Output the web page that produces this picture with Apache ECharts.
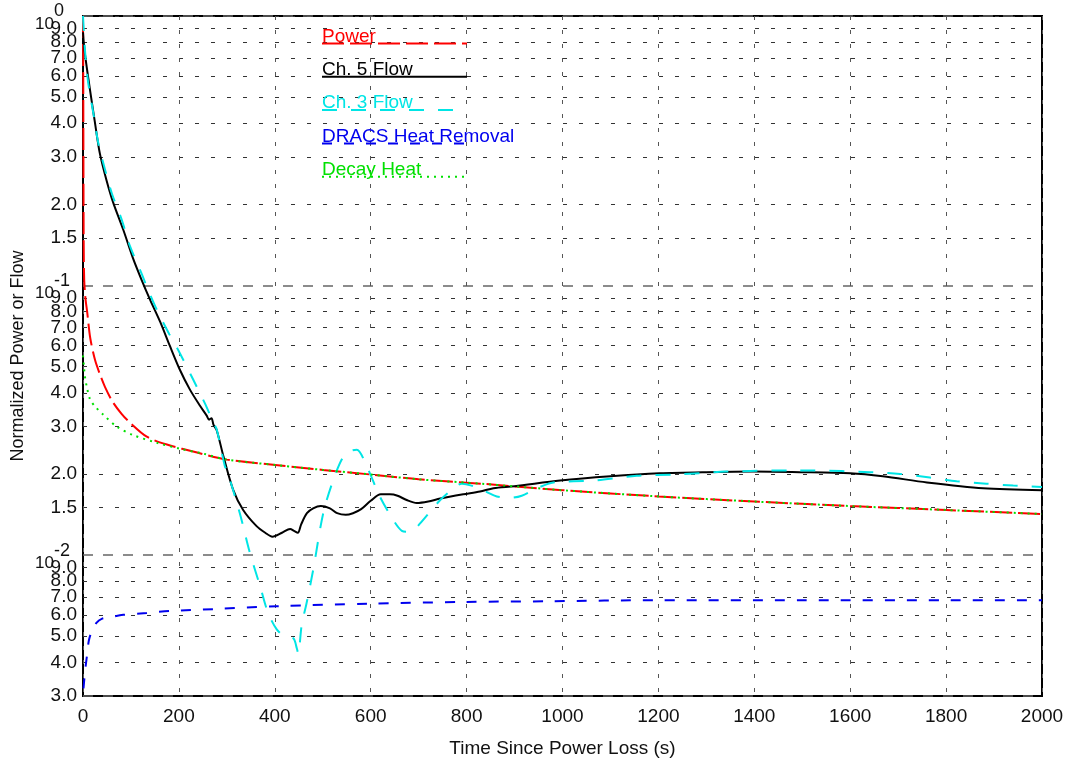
<!DOCTYPE html>
<html lang="en">
<head>
    <meta charset="UTF-8">
    <title>Power and Flow after Power Loss</title>
    <script src="https://cdn.jsdelivr.net/npm/echarts@6/dist/echarts.min.js"></script>
    <style>
        html, body { margin: 0; padding: 0; background: #fff; }
    </style>
</head>
<body>
<div id="main" style="width: 1072px;height:767px;"></div>
<script>
    // [time (s), normalized value]
    let power = [[0, 1.0], [0.5, 0.6], [1, 0.25], [1.5, 0.14], [2.5, 0.105], [5, 0.09], [9, 0.079], [15, 0.064],
        [25, 0.053], [35, 0.047], [46, 0.042], [62, 0.037], [80, 0.0335], [98, 0.031], [133, 0.0275],
        [175, 0.0257], [238, 0.024], [300, 0.0226], [411, 0.0215], [500, 0.0207], [600, 0.0199],
        [700, 0.0191], [830, 0.0184], [1000, 0.0174], [1200, 0.0165], [1400, 0.0158], [1600, 0.0152],
        [1800, 0.0147], [2000, 0.0142]];
    let ch5Flow = [[0, 0.87], [3, 0.75], [7.6, 0.649], [14.6, 0.532], [25, 0.401], [35, 0.31], [49, 0.246],
        [63, 0.203], [84, 0.161], [104, 0.1267], [123, 0.1041], [140, 0.0885], [161, 0.0733], [181, 0.0598],
        [202, 0.0487], [223, 0.0411], [244, 0.0358], [258, 0.0329], [263, 0.0318], [268, 0.0322],
        [272, 0.0305], [279, 0.029], [293, 0.0232], [313, 0.0175], [334, 0.0147], [362, 0.0128],
        [380, 0.0121], [395, 0.0117], [415, 0.0121], [432, 0.0125], [440, 0.0123], [448, 0.0121],
        [455, 0.013], [467, 0.0143], [480, 0.0149], [496, 0.0152], [515, 0.0149], [530, 0.0143],
        [548, 0.0141], [563, 0.0143], [580, 0.0148], [600, 0.0159], [621, 0.0168], [640, 0.0168],
        [656, 0.0166], [675, 0.016], [696, 0.0156], [720, 0.0158], [745, 0.0162], [793, 0.0168],
        [828, 0.0172], [856, 0.0177], [900, 0.018], [995, 0.0189], [1100, 0.0196], [1203, 0.0201],
        [1300, 0.0203], [1398, 0.0204], [1495, 0.0203], [1600, 0.0201], [1668, 0.0196], [1760, 0.0186],
        [1877, 0.0177], [2000, 0.0174]];
    let ch3Flow = [[0, 1.0], [3, 0.8], [6, 0.68], [11, 0.563], [21.5, 0.436], [32, 0.337], [46, 0.269],
        [60, 0.22], [81, 0.175], [98, 0.14], [122, 0.111], [133, 0.099], [154, 0.0813], [180, 0.066],
        [202, 0.0561], [230, 0.0447], [254, 0.0366], [272, 0.031], [279, 0.0292], [296, 0.0213],
        [300, 0.0207], [327, 0.0143], [348, 0.0102], [369, 0.0077], [386, 0.0061], [404, 0.0053],
        [420, 0.005], [439, 0.0049], [446, 0.0045], [449, 0.0043], [456, 0.0055], [466, 0.0066],
        [480, 0.0088], [501, 0.0143], [522, 0.019], [543, 0.0232], [560, 0.0244], [571, 0.0246],
        [592, 0.0213], [619, 0.0165], [647, 0.0135], [665, 0.0123], [678, 0.0122], [690, 0.0124],
        [703, 0.0131], [745, 0.016], [770, 0.0175], [790, 0.0184], [810, 0.0181], [840, 0.0172],
        [863, 0.0165], [890, 0.0163], [915, 0.0166], [950, 0.0178], [981, 0.0186], [1064, 0.0189],
        [1155, 0.0197], [1238, 0.0199], [1342, 0.0204], [1481, 0.0206], [1523, 0.0206], [1641, 0.0203],
        [1704, 0.02], [1766, 0.0194], [1822, 0.0188], [1884, 0.0184], [1940, 0.0181], [2000, 0.0179]];
    let dracs = [[1, 0.0032], [3, 0.0035], [5, 0.0038], [8, 0.0042], [12, 0.0048], [18, 0.0052],
        [28, 0.0056], [39, 0.0058], [60, 0.0059], [84, 0.006], [133, 0.0061], [181, 0.0062],
        [272, 0.0063], [404, 0.00646], [598, 0.0066], [793, 0.0067], [974, 0.00674], [1200, 0.0068],
        [1500, 0.0068], [1800, 0.0068], [2000, 0.0068]];
    let decayHeat = [[0, 0.055], [2, 0.05], [4, 0.046], [8, 0.042], [15, 0.0377], [25, 0.0356],
        [42, 0.0332], [70, 0.03], [104, 0.0279], [154, 0.0261], [202, 0.0248], [250, 0.0238],
        [300, 0.0226], [411, 0.0215], [500, 0.0207], [600, 0.0199], [700, 0.0191], [830, 0.0184],
        [1000, 0.0174], [1200, 0.0165], [1400, 0.0158], [1600, 0.0152], [1800, 0.0147], [2000, 0.0142]];

    // y ticks (log scale); 1.0 is a blank placeholder so 9.0 is not dropped as an edge label
    let yMinorTicks = [1.0, 0.9, 0.8, 0.7, 0.6, 0.5, 0.4, 0.3, 0.2, 0.15,
        0.09, 0.08, 0.07, 0.06, 0.05, 0.04, 0.03, 0.02, 0.015,
        0.009, 0.008, 0.007, 0.006, 0.005, 0.004];
    let yMajorTicks = [0.003, 0.01, 0.1, 1.0];
    let yMin = 0.003, yMax = 1;

    let legendNames = ['Power', 'Ch. 5 Flow', 'Ch. 3 Flow', 'DRACS Heat Removal', 'Decay Heat'];
    let colors = ['#ff0000', '#000000', '#00e5e5', '#0000ee', '#00e000'];
    let dashes = [[22, 6], null, [15, 14], [10, 12], [2, 5]];

    const font = 'Liberation Sans, Arial, sans-serif';
    const lg = v => Math.log10(v);
    const toLog = arr => arr.map(p => [p[0], lg(p[1])]);
    const mantissa = function (val) {
        let e = Math.floor(val + 1e-9);
        return (Math.pow(10, val) / Math.pow(10, e)).toFixed(1);
    };
    let seriesData = [power, ch5Flow, ch3Flow, dracs, decayHeat];

    let chart = echarts.init(document.getElementById('main'));

    let series = seriesData.map(function (d, i) {
        return {
            name: legendNames[i],
            type: 'line',
            data: toLog(d),
            showSymbol: false,
            smooth: 0.3,
            lineStyle: {color: colors[i], width: 2, type: dashes[i] || 'solid'},
            z: i === 4 ? 5 : 3
        };
    });

    // legend drawn as text sitting on a sample line
    let graphics = [];
    legendNames.forEach(function (name, i) {
        let ly = 43.5 + i * 33.3;
        graphics.push({
            type: 'line',
            shape: {x1: 322, y1: ly, x2: 467, y2: ly},
            style: {stroke: colors[i], lineWidth: 2, lineDash: dashes[i] || null},
            z: 10
        });
        graphics.push({
            type: 'text',
            x: 322, y: ly - 7,
            style: {text: name, fill: colors[i], font: '19px ' + font, textVerticalAlign: 'middle'},
            z: 11
        });
    });

    let option = {
        animation: false,
        backgroundColor: '#fff',
        grid: {left: 83, right: 30, top: 16, bottom: 71, show: true, borderColor: '#000', borderWidth: 2,
            backgroundColor: 'transparent', outerBoundsMode: 'none', containLabel: false},
        xAxis: {
            type: 'value', min: 0, max: 2000, interval: 200,
            name: 'Time Since Power Loss (s)', nameLocation: 'middle', nameGap: 43,
            nameTextStyle: {fontSize: 19, color: '#111', fontFamily: font},
            axisLine: {show: false},
            axisTick: {show: false},
            axisLabel: {fontSize: 19, color: '#111', fontFamily: font, margin: 11,
                formatter: v => String(v)},
            splitLine: {show: true, lineStyle: {color: '#555', width: 1, type: [4, 10]}}
        },
        yAxis: [
            {
                type: 'value', min: lg(yMin), max: lg(yMax),
                name: 'Normalized Power or Flow', nameLocation: 'middle', nameGap: 56,
                nameTextStyle: {fontSize: 18, color: '#111', fontFamily: font},
                axisLine: {show: false},
                axisTick: {show: false, customValues: yMinorTicks.map(lg)},
                axisLabel: {
                    customValues: yMinorTicks.map(lg),
                    hideOverlap: false,
                    fontSize: 19, color: '#111', fontFamily: font, margin: 6,
                    formatter: function (val) {
                        return val > -1e-9 ? '' : mantissa(val);
                    }
                },
                splitLine: {show: true, lineStyle: {color: '#333', width: 1, type: [4, 12]}}
            },
            {
                type: 'value', min: lg(yMin), max: lg(yMax), position: 'left', offset: 0,
                axisLine: {show: false},
                axisTick: {show: false, customValues: yMajorTicks.map(lg)},
                axisLabel: {
                    customValues: yMajorTicks.map(lg),
                    showMinLabel: true, showMaxLabel: true, hideOverlap: false,
                    align: 'left', margin: 48, color: '#111', fontFamily: font,
                    formatter: function (val) {
                        let r = Math.round(val);
                        if (Math.abs(val - r) > 1e-6) {
                            return '{m|' + mantissa(val) + '}';
                        }
                        return '{b|10}{e|' + r + '}';
                    },
                    rich: {
                        b: {fontSize: 17, fontFamily: font, color: '#111', padding: [16, 0, 0, 0],
                            verticalAlign: 'bottom'},
                        e: {fontSize: 18, fontFamily: font, color: '#111', padding: [3, 0, 0, 0],
                            verticalAlign: 'top'},
                        m: {fontSize: 19, fontFamily: font, color: '#111', width: 42, align: 'right'}
                    }
                },
                splitLine: {show: true, lineStyle: {color: '#666', width: 1.5, type: [10, 10]}}
            }
        ],
        series: series,
        graphic: graphics
    };
    chart.setOption(option);
</script>
</body>
</html>
